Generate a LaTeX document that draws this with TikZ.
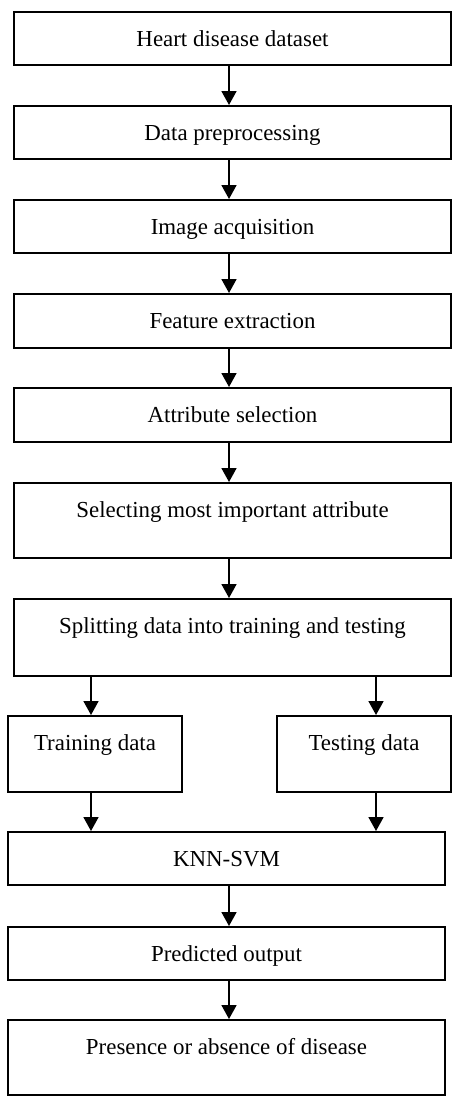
\documentclass[tikz,border=0pt]{standalone}
\usepackage{fontspec}
\setmainfont{Liberation Serif}
\usetikzlibrary{arrows.meta}
\tikzset{
  bx/.style={draw, line width=1.8pt, inner sep=0pt, text height=35pt, anchor=north,
             font=\fontsize{22.9}{27}\selectfont},
  wide/.style={bx, minimum width=437pt},
  half/.style={bx, minimum width=174pt},
  arr/.style={line width=1.8pt, -{Triangle[width=15pt,length=14pt]}}
}
\begin{document}
\begin{tikzpicture}[x=1pt,y=-1pt]
\useasboundingbox (0,0) rectangle (462,1100);
\node[wide, text depth=18pt] (b1) at (232.5,11) {Heart disease dataset};
\node[wide, text depth=18pt] (b2) at (232.5,105) {Data preprocessing};
\node[wide, text depth=18pt] (b3) at (232.5,199) {Image acquisition};
\node[wide, text depth=19pt] (b4) at (232.5,293) {Feature extraction};
\node[wide, text depth=19pt] (b5) at (232.5,387) {Attribute selection};
\node[wide, text depth=40pt] (b6) at (232.5,482) {Selecting most important attribute};
\node[wide, text depth=42pt] (b7) at (232.5,598) {Splitting data into training and testing};
\node[half, text depth=41pt] (tr) at (95,715) {Training data};
\node[half, text depth=41pt] (te) at (364,715) {Testing data};
\node[wide, text depth=18pt] (knn) at (226.5,831) {KNN-SVM};
\node[wide, text depth=18pt] (pr) at (226.5,926) {Predicted output};
\node[wide, text depth=40pt] (ps) at (226.5,1019) {Presence or absence of disease};
\coordinate (m) at (229,0);
\coordinate (l) at (91,0);
\coordinate (r) at (376,0);
\draw[arr] (b1.south -| m) -- (b2.north -| m);
\draw[arr] (b2.south -| m) -- (b3.north -| m);
\draw[arr] (b3.south -| m) -- (b4.north -| m);
\draw[arr] (b4.south -| m) -- (b5.north -| m);
\draw[arr] (b5.south -| m) -- (b6.north -| m);
\draw[arr] (b6.south -| m) -- (b7.north -| m);
\draw[arr] (b7.south -| l) -- (tr.north -| l);
\draw[arr] (b7.south -| r) -- (te.north -| r);
\draw[arr] (tr.south -| l) -- (knn.north -| l);
\draw[arr] (te.south -| r) -- (knn.north -| r);
\draw[arr] (knn.south -| m) -- (pr.north -| m);
\draw[arr] (pr.south -| m) -- (ps.north -| m);
\end{tikzpicture}
\end{document}
